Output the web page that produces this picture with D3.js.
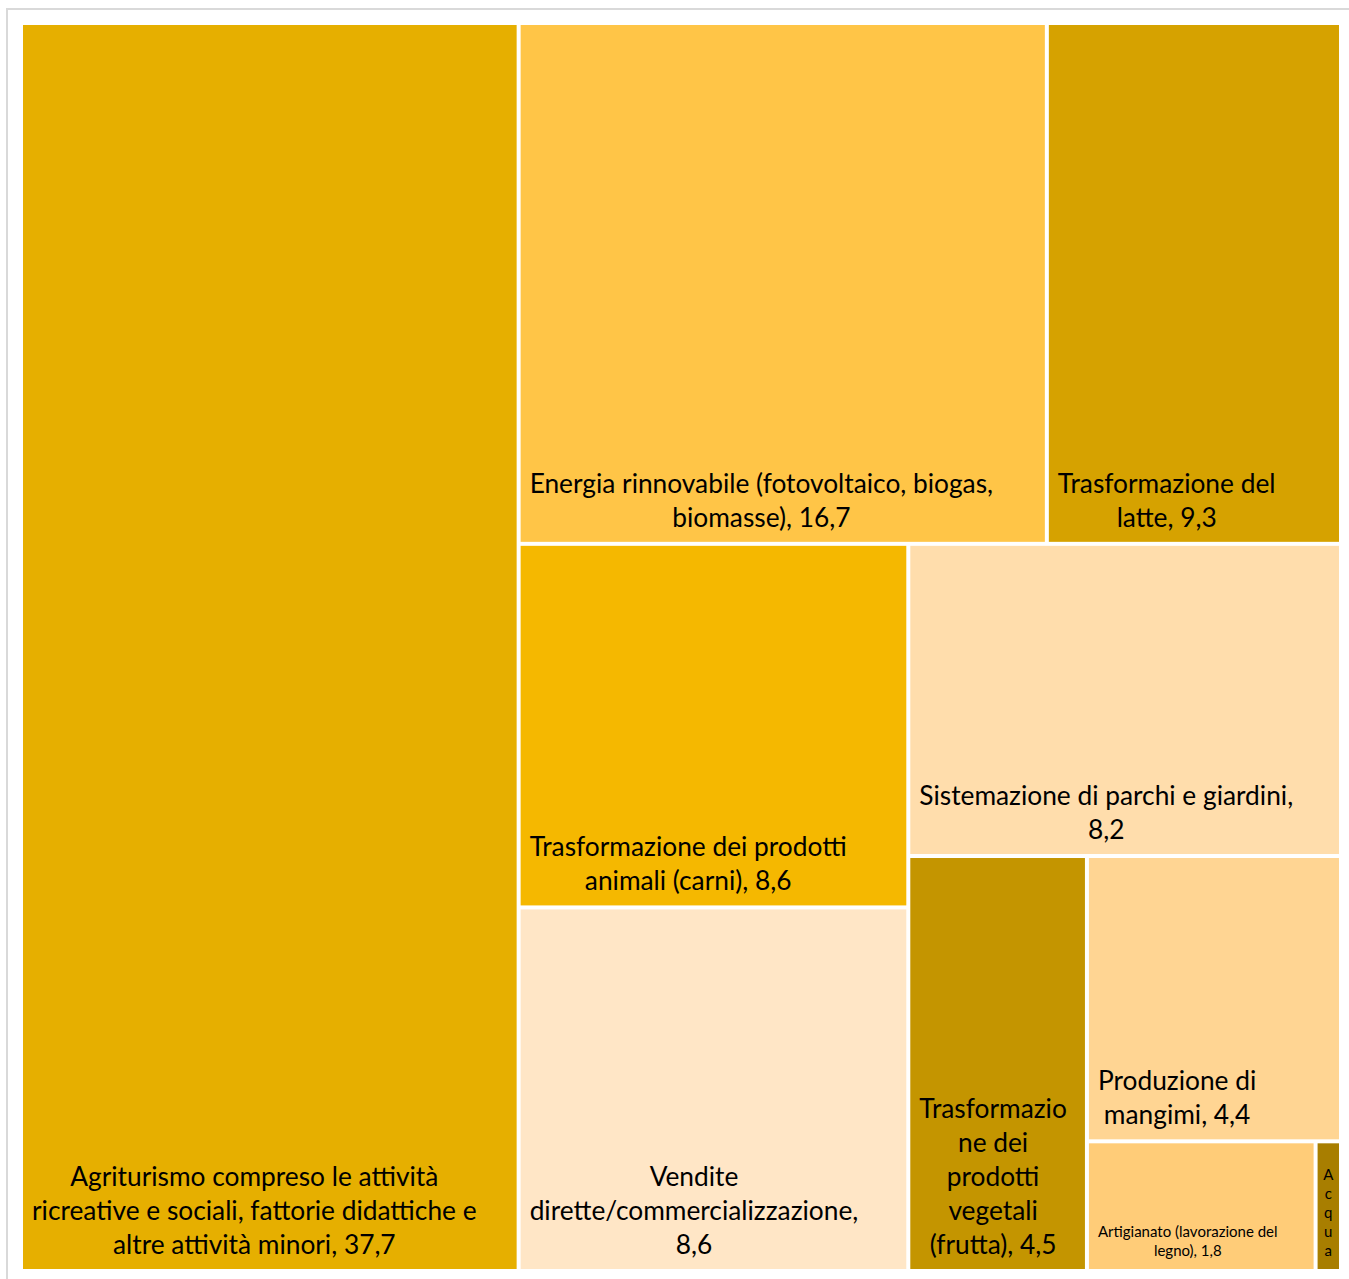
<!DOCTYPE html>
<html><head><meta charset="utf-8">
<script src="https://cdn.jsdelivr.net/npm/d3@7"></script>
<style>body{margin:0;background:#fff;} svg{display:block}</style>
</head><body>
<svg id="chart" width="1349" height="1279"></svg>
<script>
// ---- data ----
const categories = [
  "Agriturismo compreso le attività ricreative e sociali, fattorie didattiche e altre attività minori",
  "Energia rinnovabile (fotovoltaico, biogas, biomasse)",
  "Trasformazione del latte",
  "Trasformazione dei prodotti animali (carni)",
  "Vendite dirette/commercializzazione",
  "Sistemazione di parchi e giardini",
  "Trasformazione dei prodotti vegetali (frutta)",
  "Produzione di mangimi",
  "Artigianato (lavorazione del legno)",
  "Acqua"
];
const values = [37.7, 16.7, 9.3, 8.6, 8.6, 8.2, 4.5, 4.4, 1.8, 0.2];
const palette = ["#E6AF00", "#FFC547", "#D6A200", "#F5B800", "#FFE6C6",
                 "#FFDDAC", "#C49500", "#FFD593", "#FFCC78", "#A87E00"];

// ---- layout ----
const svg = d3.select("#chart");
const area = {x: 23, y: 25, w: 1316, h: 1244};

svg.append("rect").attr("x", 7).attr("y", 9).attr("width", 1400).attr("height", 1400)
  .attr("fill", "none").attr("stroke", "#D9D9D9").attr("stroke-width", 2);

// squarified tiling (d3's algorithm, with an unclamped target ratio, like Excel's treemap)
function squarifyTile(ratio) {
  return function(parent, x0, y0, x1, y1) {
    const nodes = parent.children, n = nodes.length;
    let value = parent.value, i0 = 0, i1 = 0;
    while (i0 < n) {
      const dx = x1 - x0, dy = y1 - y0;
      let sumValue;
      do sumValue = nodes[i1++].value; while (!sumValue && i1 < n);
      let minValue = sumValue, maxValue = sumValue;
      const alpha = Math.max(dy / dx, dx / dy) / (value * ratio);
      let beta = sumValue * sumValue * alpha;
      let minRatio = Math.max(maxValue / beta, beta / minValue);
      for (; i1 < n; ++i1) {
        const nv = nodes[i1].value;
        sumValue += nv;
        if (nv < minValue) minValue = nv;
        if (nv > maxValue) maxValue = nv;
        beta = sumValue * sumValue * alpha;
        const newRatio = Math.max(maxValue / beta, beta / minValue);
        if (newRatio > minRatio) { sumValue -= nv; break; }
        minRatio = newRatio;
      }
      const row = {value: sumValue, children: nodes.slice(i0, i1)};
      if (dx < dy) d3.treemapDice(row, x0, y0, x1, dy ? (y0 += dy * sumValue / value) : y1);
      else d3.treemapSlice(row, x0, y0, dx ? (x0 += dx * sumValue / value) : x1, y1);
      value -= sumValue;
      i0 = i1;
    }
  };
}

const root = d3.hierarchy({children: categories.map((c, i) => ({name: c, value: values[i], color: palette[i]}))})
  .sum(d => d.value || 0)
  .sort((a, b) => b.value - a.value);

d3.treemap()
  .tile(squarifyTile(0.855))
  .size([area.w, area.h])
  .paddingInner(4)(root);

const fmt = d3.formatLocale({decimal: ",", thousands: ".", grouping: [3], currency: ["", "€"]}).format(".1f");

const g = svg.append("g").attr("transform", `translate(${area.x},${area.y})`);
const leaves = root.leaves();

g.selectAll("rect.cell").data(leaves).join("rect")
  .attr("class", "cell")
  .attr("x", d => d.x0).attr("y", d => d.y0)
  .attr("width", d => d.x1 - d.x0).attr("height", d => d.y1 - d.y0)
  .attr("fill", d => d.data.color);

const FONT = "Lato, 'Open Sans', sans-serif";
const measure = svg.append("text").attr("font-family", FONT).attr("visibility", "hidden");
function textW(s, size) {
  measure.attr("font-size", size).text(s);
  return measure.node().getComputedTextLength();
}

function wrap(text, size, maxW, charsOnly) {
  const lines = [];
  let cur = "";
  const tokens = charsOnly ? text.replace(/\s+/g, "").split("") : text.split(/\s+/);
  const sep = charsOnly ? "" : " ";
  for (const tok of tokens) {
    const cand = cur ? cur + sep + tok : tok;
    if (textW(cand, size) <= maxW) { cur = cand; continue; }
    if (cur) { lines.push(cur); cur = ""; }
    if (textW(tok, size) <= maxW) { cur = tok; continue; }
    let piece = "";
    for (const ch of tok) {
      if (piece && textW(piece + ch, size) > maxW) { lines.push(piece); piece = ch; }
      else piece += ch;
    }
    cur = piece;
  }
  if (cur) lines.push(cur);
  return lines;
}

leaves.forEach(d => {
  const w = d.x1 - d.x0, h = d.y1 - d.y0;
  const small = h < 150 || w < 40;
  const size = small ? 15 : 26.3;
  const lh = small ? 19 : 34;
  const maxW = w - (small ? 14 : 22);
  let lines = wrap(d.data.name + ", " + fmt(d.data.value), size, maxW, false);
  if (lines.length * lh > h - 10) {
    lines = wrap(d.data.name, size, maxW, w < 40);
  }
  const blockW = d3.max(lines, l => textW(l, size));
  const cx = blockW > maxW ? (d.x0 + d.x1) / 2 : d.x0 + 9 + blockW / 2;
  const lastBase = d.y1 - (small ? 13 : 15);
  const t = g.append("text")
    .attr("font-family", FONT).attr("font-size", size)
    .attr("fill", "#000").attr("text-anchor", "middle");
  t.selectAll("tspan").data(lines).join("tspan")
    .attr("x", cx)
    .attr("y", (l, i) => lastBase - (lines.length - 1 - i) * lh)
    .text(l => l);
});
measure.remove();
</script>
</body></html>
